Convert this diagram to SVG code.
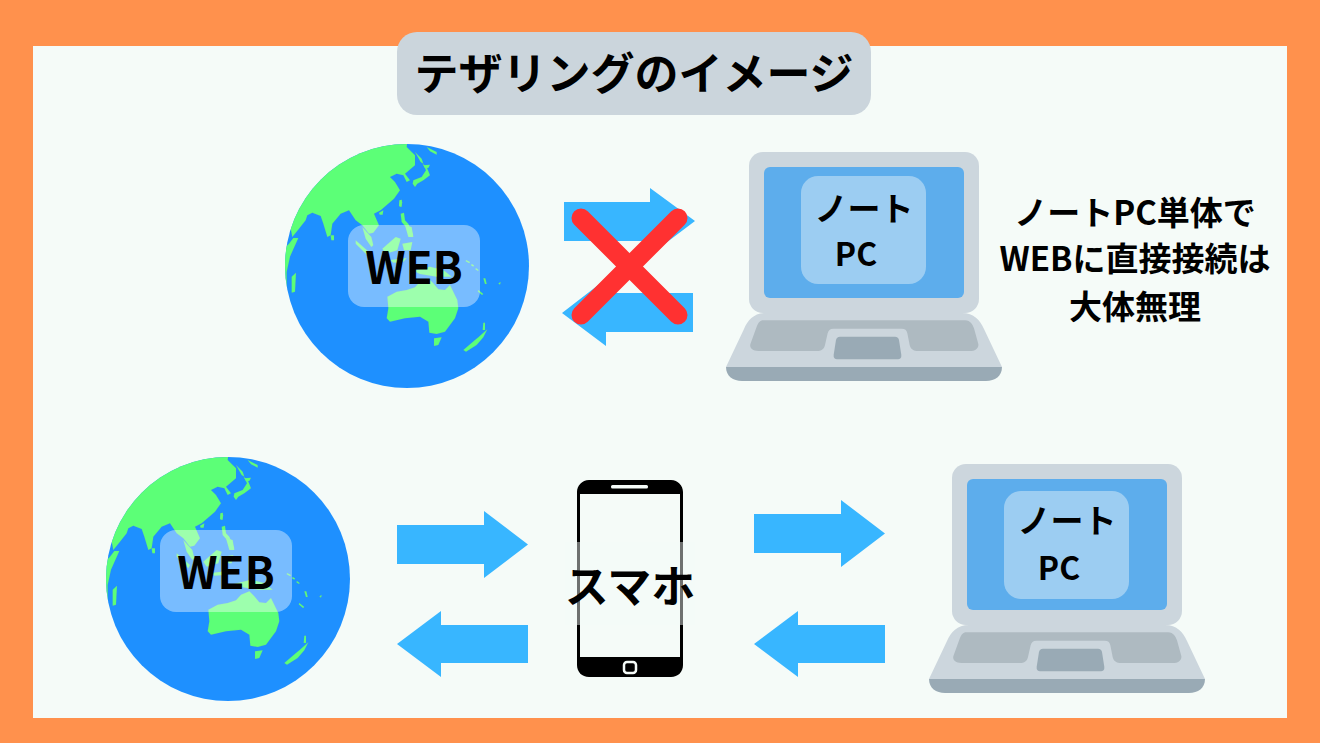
<svg xmlns="http://www.w3.org/2000/svg" width="1320" height="743" viewBox="0 0 1320 743">
<style>
.t{font-family:"Noto Sans CJK JP","Noto Sans",sans-serif;fill:#000;text-anchor:middle}
.b{font-weight:700}
.arrow{fill:#38b6ff}
.land{fill:#5cff77;stroke:#a59a8c;stroke-width:.8;stroke-opacity:.4}
.plate{fill:#fff;fill-opacity:.4}
.label{fill:#9ccdf2}
</style>
<defs>
<clipPath id="gc"><circle cx="407" cy="266" r="122"/></clipPath>
<g id="globe">
<circle cx="407" cy="266" r="122" fill="#1e90ff"/>
<g clip-path="url(#gc)" class="land">
<g transform="translate(284 142) scale(.33333)">
<path d="M0,0L370,0L368,15L393,40L393,70L363,95L378,115L368,120L358,100L338,95L318,105L333,120L348,145L330,170L290,205L270,215L285,250L268,272L255,275L235,250L215,235L195,205L170,215L145,245L140,280L130,285L118,245L110,222L85,212L70,220L65,235L45,260L25,285L18,250L0,260Z"/>
<path d="M0,320L15,305L28,288L43,288L18,344L8,390L8,460L0,470Z"/>
<path d="M140,280L150,280L150,295L142,295Z"/>
<path d="M348,175L355,180L352,195L346,190Z"/>
<path d="M285,212L298,205L296,218L287,218Z"/>
<path d="M235,255L262,285L268,310L262,315L245,290Z"/>
<path d="M215,295L255,330L250,340L215,305Z"/>
<path d="M295,320L335,285L350,290L340,325L305,335Z"/>
<path d="M355,305L385,300L380,325L360,325Z"/>
<path d="M23,404L36,392L33,449L23,452Z"/>
</g>
<g transform="translate(380 142) scale(.33333)">
<path d="M98,125L105,135L112,125L130,115L150,100L140,75L128,65L138,85L125,105L100,115Z"/>
<path d="M130,70L150,68L145,78L135,78Z"/>
<path d="M105,30L125,50L130,65L122,60Z"/>
<path d="M140,15L170,30L170,38L150,28Z"/>
<path d="M58,175L66,173L64,195L57,193Z"/>
<path d="M62,215L72,212L75,235L85,245L100,280L90,285L78,255L65,240Z"/>
<path d="M75,250L95,255L100,285L85,285Z"/>
</g>
<g transform="translate(370 250) scale(.33333)">
<path d="M52,140L80,125L110,120L135,112L150,95L175,85L190,100L205,118L225,120L240,105L262,150L265,175L255,205L225,245L200,252L178,248L175,215L150,200L105,205L60,215L50,205L55,175Z"/>
<path d="M192,265L215,262L205,285L192,288Z"/>
<path d="M280,300L315,270L325,262L352,238L340,262L320,285L288,305Z"/>
<path d="M340,218L345,218L345,240L338,240Z"/>
<path d="M340,85L346,85L350,102L345,102Z"/>
<path d="M385,100L392,96L390,104Z"/>
<path d="M325,120L340,132L336,135L323,124Z"/>
<path d="M288,30L300,36L298,40L287,34Z"/>
<path d="M305,42L312,46L310,50L303,46Z"/>
<path d="M318,54L326,60L324,63L316,58Z"/>
<path d="M130,62L180,50L220,60L245,80L200,80L150,72Z"/>
<path d="M60,30L110,24L100,36L70,38Z"/>
</g>
</g>
</g>
<g id="laptop">
<rect x="749" y="152" width="230" height="161" rx="14" fill="#ccd6dd"/>
<path d="M766,313H962C974,313 980,320 984,329L1002,367H726L744,329C748,320 754,313 766,313Z" fill="#ccd6dd"/>
<path d="M726,367H1002C1002,376 995,381 986,381H742C733,381 726,376 726,367Z" fill="#99aab5"/>
<g transform="translate(550 140) scale(.33333)">
<path d="M640,541H1245C1262,541 1268,555 1272,565L1285,612C1287,625 1275,633 1260,633H1105C1090,633 1082,628 1079,615L1072,580C1070,570 1065,566 1055,566H850C840,566 835,572 833,580L825,615C822,628 815,633 800,633H625C605,633 597,622 602,610L620,560C625,548 630,541 640,541Z" fill="#aebac1"/>
<path d="M870,590H1035C1042,590 1046,594 1047,600L1054,645C1055,654 1050,658 1044,658H861C855,658 850,654 851,645L858,600C859,594 863,590 870,590Z" fill="#99aab5"/>
</g>
<rect x="764" y="167" width="200" height="131" rx="6" fill="#5dadec"/>
</g>
</defs>
<rect width="1320" height="743" fill="#ff914d"/>
<rect x="33" y="46" width="1254" height="672" fill="#f5fbf8"/>
<g id="title">
<rect x="397" y="32" width="474" height="83" rx="20" fill="#cbd5dc"/>
<text class="t b" x="634" y="90" font-size="44">テザリングのイメージ</text>
</g>
<g id="web-top"><use href="#globe"/>
<rect class="plate" x="348" y="225" width="132" height="82" rx="16"/>
<text class="t b" x="414" y="284" font-size="44">WEB</text>
</g>
<g id="laptop-top"><use href="#laptop"/>
<rect class="label" x="801" y="176" width="125" height="108" rx="17"/>
<text class="t b" x="864" y="221" font-size="33">ノート</text>
<text class="t b" x="856" y="266" font-size="32">PC</text>
</g>
<g id="note">
<text class="t b" x="1135" y="225" font-size="33">ノートPC単体で</text>
<text class="t b" x="1135" y="271" font-size="33">WEBに直接接続は</text>
<text class="t b" x="1135" y="319" font-size="33">大体無理</text>
</g>
<g id="web-bottom"><use href="#globe" x="-179" y="313"/>
<rect class="plate" x="160" y="530" width="132" height="82" rx="16"/>
<text class="t b" x="226" y="589" font-size="44">WEB</text>
</g>
<g id="phone">
<path fill-rule="evenodd" d="M589,480H671C678,480 683,486 683,492V665C683,672 678,677 671,677H589C582,677 577,672 577,665V492C577,486 582,480 589,480ZM580,494V657H680V494Z" fill="#000"/>
<rect x="611" y="485" width="37" height="3.500" rx="1.500" fill="#f5fbf8"/>
<rect x="624" y="662" width="12" height="11" rx="3" fill="none" stroke="#f5fbf8" stroke-width="2.500"/>
<rect x="565" y="542" width="130" height="83" fill="#f5fbf8" fill-opacity=".45"/>
<text class="t b" x="630" y="603" font-size="44">スマホ</text>
</g>
<g id="laptop-bottom"><use href="#laptop" x="203" y="312"/>
<rect class="label" x="1004" y="491" width="125" height="108" rx="17"/>
<text class="t b" x="1067" y="533" font-size="33">ノート</text>
<text class="t b" x="1059" y="580" font-size="32">PC</text>
</g>
<g id="connectors">
<path class="arrow" d="M564,202H650V188L695,221L650,255V241H564Z"/>
<path class="arrow" d="M693,293H606V279L562,313L606,346V332H693Z"/>
<g stroke="#ff3131" stroke-width="19" stroke-linecap="round">
<line x1="581" y1="218" x2="678" y2="315"/>
<line x1="678" y1="218" x2="581" y2="315"/>
</g>
<path class="arrow" d="M397,525H484V511L528,544.500L484,578V564H397Z"/>
<path class="arrow" d="M754,514H841V500L885,533.500L841,567V553H754Z"/>
<path class="arrow" d="M528,625H441V611L397,644L441,677V663H528Z"/>
<path class="arrow" d="M885,625H798V611L754,644L798,677V663H885Z"/>
</g>
</svg>
